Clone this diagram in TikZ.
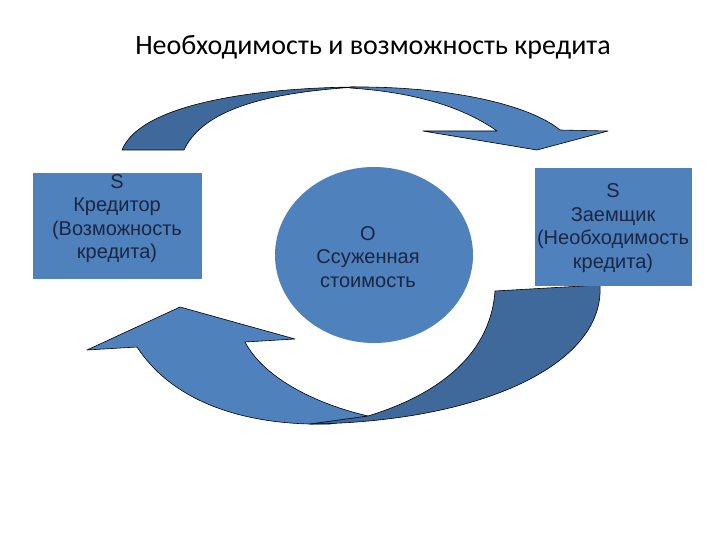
\documentclass[tikz,border=0pt]{standalone}
\usepackage{fontspec}
\setmainfont{Liberation Sans}
\newfontfamily\titlefont{Carlito}
\usetikzlibrary{shapes.geometric}
\definecolor{lblue}{HTML}{4F81BD}
\definecolor{dblue}{HTML}{40699B}
\definecolor{navy}{HTML}{1A2642}
\begin{document}
\begin{tikzpicture}[x=1pt,y=-1pt,
  arrowpart/.style={draw=black, line width=0.6pt, line join=round},
  boxstyle/.style={fill=lblue, draw=none, inner sep=0pt},
  lbl/.style={text=navy, font=\fontsize{20}{23.5}\selectfont, align=center, inner sep=0pt}]
\useasboundingbox (0,0) rectangle (720,540);
\fill[white] (0,0) rectangle (720,540);

% title
\node[font=\titlefont\fontsize{28}{32}\selectfont, text=black] (title) at (373,47) {Необходимость и возможность кредита};

% top arrow: dark back part
\path[arrowpart, fill=dblue]
  (122,150) .. controls (140,105) and (250,88) .. (356,87)
  .. controls (280,92) and (205,105) .. (184,150) -- cycle;
% top arrow: light front part with head
\path[arrowpart, fill=lblue]
  (350,87) .. controls (450,86) and (530,105) .. (560,130)
  -- (608,131) -- (537,150) -- (423,131) -- (497,131)
  .. controls (460,105) and (410,92) .. (350,88) -- cycle;

% bottom arrow: light front part with head
\path[arrowpart, fill=lblue]
  (137,347) .. controls (175,405) and (250,426) .. (330,424)
  -- (368,416)
  .. controls (320,405) and (265,380) .. (245,342)
  -- (295,339) -- (180,307) -- (87,350) -- cycle;
% bottom arrow: dark back part
\path[arrowpart, fill=dblue]
  (495,291) -- (600,285)
  .. controls (605,365) and (480,422) .. (310,424)
  -- (368,416)
  .. controls (430,397) and (490,360) .. (495,291) -- cycle;

% boxes
\node[boxstyle, minimum width=169pt, minimum height=106pt] (cred) at (117.5,226) {};
\node[lbl] (credtxt) at (117,218.5) {S\\Кредитор\\(Возможность\\кредита)};

\node[boxstyle, minimum width=157pt, minimum height=118pt] (borr) at (613.5,227) {};
\node[lbl] (borrtxt) at (613,228) {S\\Заемщик\\(Необходимость\\кредита)};

\node[ellipse, fill=lblue, draw=none, minimum width=198pt, minimum height=176pt, inner sep=0pt] (val) at (374,255) {};
\node[lbl] (valtxt) at (368,257) {O\\Ссуженная\\стоимость};
\end{tikzpicture}
\end{document}
